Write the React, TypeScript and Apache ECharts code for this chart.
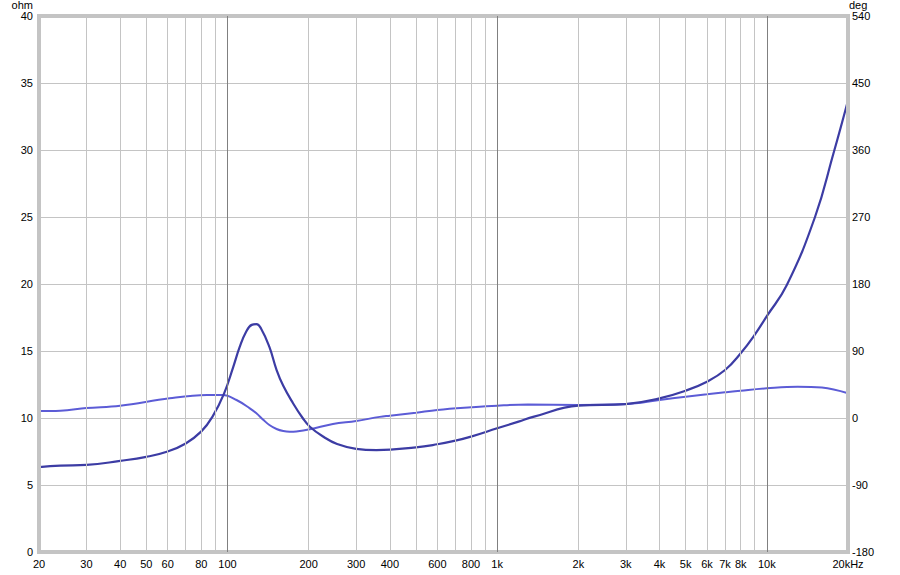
import React, { useEffect, useRef } from "react";
import * as echarts from "echarts";

// Impedance magnitude (ohm) vs frequency (Hz)
const impFreq = [20, 24, 30, 40, 50, 60, 70, 80, 88, 97, 105, 111, 117, 123, 128, 133, 143, 152, 161, 175, 190, 202, 227, 255, 300, 357, 500, 600, 700, 800, 1000, 1200, 1370, 2000, 3000, 4000, 5000, 6000, 7000, 8000, 9000, 10000, 11850, 15090, 17640, 20000];
const impOhm = [6.34, 6.45, 6.5, 6.8, 7.1, 7.5, 8.1, 9.0, 10.1, 11.8, 13.8, 15.3, 16.4, 16.95, 17.0, 16.7, 15.3, 13.6, 12.4, 11.1, 10.0, 9.35, 8.6, 8.06, 7.7, 7.61, 7.81, 8.04, 8.31, 8.61, 9.23, 9.73, 10.1, 10.92, 11.04, 11.47, 12.04, 12.71, 13.58, 14.83, 16.19, 17.6, 19.9, 25, 29.7, 33.7];

// Impedance phase (deg) vs frequency (Hz)
const phFreq = [20, 24, 30, 40, 61, 84, 96, 108, 121, 128, 136, 143, 152, 161, 170, 180, 202, 246, 300, 367, 400, 500, 600, 800, 1000, 1300, 2000, 3000, 4000, 5000, 6000, 7000, 8000, 10000, 13000, 16000, 20000];
const phDeg = [9.4, 9.9, 13.4, 16.5, 26.5, 30.9, 31, 24.2, 13, 6.3, -2.7, -9.4, -14.8, -17.5, -18.4, -18, -15.2, -8.1, -4, 1.5, 3.1, 7.2, 10.8, 14.4, 16.6, 18.0, 17.5, 18.7, 24.2, 28.6, 31.8, 34.5, 36.7, 39.9, 42.1, 41, 33.2];

// Frequency grid and tick labels
const gridFreqs = [30, 40, 50, 60, 70, 80, 90, 100, 200, 300, 400, 500, 600, 700, 800, 900, 1000, 2000, 3000, 4000, 5000, 6000, 7000, 8000, 9000, 10000];
const decadeFreqs = [100, 1000, 10000];
const tickFreqs = [20, 30, 40, 50, 60, 80, 100, 200, 300, 400, 600, 800, 1000, 2000, 3000, 4000, 5000, 6000, 7000, 8000, 10000, 20000];
const tickLabels = ["20", "30", "40", "50", "60", "80", "100", "200", "300", "400", "600", "800", "1k", "2k", "3k", "4k", "5k", "6k", "7k", "8k", "10k", "20kHz"];

const FONT = 'Arial, "Liberation Sans", sans-serif';

export default function App() {
  const ref = useRef<HTMLDivElement>(null);
  useEffect(() => {
    if (!ref.current) return;
    const chart = echarts.init(ref.current, undefined, { renderer: "svg" });

    const gridLines = gridFreqs.map((f) => [
      {
        coord: [f, 0],
        lineStyle: { color: decadeFreqs.includes(f) ? "#808080" : "#c4c4c4", width: 1, type: "solid" },
      },
      { coord: [f, 40] },
    ]);
    const labelLines = tickFreqs.map((f, i) => [
      {
        coord: [f, 0],
        label: { show: true, formatter: tickLabels[i] },
      },
      { coord: [f, 40] },
    ]);

    chart.setOption({
      animation: false,
      backgroundColor: "#ffffff",
      grid: {
        left: 39,
        right: 52,
        top: 16,
        bottom: 23,
        show: true,
        borderColor: "#c4c4c4",
        borderWidth: 4,
        z: 5,
      },
      xAxis: {
        type: "log",
        logBase: 10,
        min: 20,
        max: 20000,
        axisLine: { show: false },
        axisTick: { show: false },
        axisLabel: { show: false },
        splitLine: { show: false },
      },
      yAxis: [
        {
          type: "value",
          min: 0,
          max: 40,
          interval: 5,
          position: "left",
          axisLine: { show: false },
          axisTick: { show: false },
          axisLabel: { color: "#000", fontSize: 11, fontFamily: FONT, margin: 6 },
          splitLine: { show: true, lineStyle: { color: "#c4c4c4", width: 1 } },
        },
        {
          type: "value",
          min: -180,
          max: 540,
          interval: 90,
          position: "right",
          axisLine: { show: false },
          axisTick: { show: false },
          axisLabel: { color: "#000", fontSize: 11, fontFamily: FONT, margin: 4 },
          splitLine: { show: false },
        },
      ],
      graphic: [
        {
          type: "text",
          right: 900 - 33,
          top: -1,
          style: { text: "ohm", fill: "#000", font: `11px ${FONT}`, textAlign: "right" },
        },
        {
          type: "text",
          left: 849,
          top: -1,
          style: { text: "deg", fill: "#000", font: `11px ${FONT}` },
        },
      ],
      series: [
        {
          type: "line",
          name: "grid",
          data: [],
          silent: true,
          z: 1,
          markLine: {
            silent: true,
            symbol: "none",
            animation: false,
            label: { show: false },
            data: gridLines,
          },
        },
        {
          type: "line",
          name: "ticks",
          data: [],
          silent: true,
          z: 1,
          markLine: {
            silent: true,
            symbol: "none",
            animation: false,
            lineStyle: { color: "rgba(0,0,0,0)", width: 0 },
            label: {
              show: true,
              position: "start",
              distance: 6,
              color: "#000",
              fontSize: 11,
              fontFamily: FONT,
            },
            data: labelLines,
          },
        },
        {
          type: "line",
          name: "Phase",
          yAxisIndex: 1,
          data: phFreq.map((f, i) => [f, phDeg[i]]),
          showSymbol: false,
          smooth: 0.4,
          lineStyle: { color: "#5c5cd6", width: 2 },
          z: 3,
        },
        {
          type: "line",
          name: "Impedance",
          yAxisIndex: 0,
          data: impFreq.map((f, i) => [f, impOhm[i]]),
          showSymbol: false,
          smooth: 0.45,
          lineStyle: { color: "#3c3ca4", width: 2.2 },
          z: 4,
        },
      ],
    });
    return () => chart.dispose();
  }, []);

  return (
    <div
      ref={ref}
      style={{ position: "fixed", left: 0, top: 0, width: 900, height: 575, background: "#fff" }}
    />
  );
}
